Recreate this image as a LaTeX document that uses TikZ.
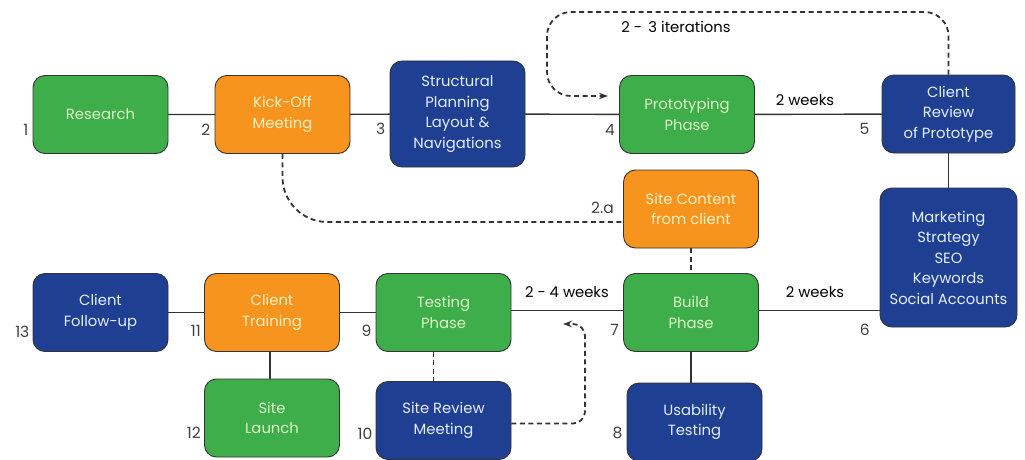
\documentclass[tikz,border=0pt]{standalone}
\usepackage{fontspec}
\setmainfont{Poppins}
\usetikzlibrary{arrows.meta,positioning}
\definecolor{boxgreen}{HTML}{3DAE4A}
\definecolor{boxorange}{HTML}{F7941D}
\definecolor{boxblue}{HTML}{1F3F93}
\definecolor{txtgreen}{HTML}{DDF5C8}
\definecolor{txtorange}{HTML}{FFF0C4}
\definecolor{txtblue}{HTML}{E3EEFB}
\definecolor{edge}{HTML}{333333}
\begin{document}
\begin{tikzpicture}[x=1pt,y=-1pt, line join=round, line cap=round,
	font=\fontsize{14.8}{20.5}\selectfont,
	box/.style={draw=edge, line width=0.9pt, rounded corners=12pt, minimum width=135pt, minimum height=78pt, align=center, inner sep=2pt},
	gbox/.style={box, fill=boxgreen, text=txtgreen},
	obox/.style={box, fill=boxorange, text=txtorange},
	bbox/.style={box, fill=boxblue, text=txtblue},
	num/.style={text=black!75, inner sep=1pt, font=\fontsize{15.5}{18}\selectfont},
	link/.style={draw=edge, line width=1.4pt},
	dlink/.style={draw=edge, line width=1.8pt, line cap=butt, dash pattern=on 5pt off 3.5pt},
	tip/.style={-{Stealth[length=9pt,width=6.5pt]}}]
	\useasboundingbox (0,0) rectangle (1025,460);
	
	% top row
	\node[gbox] (research) at (100.5,114.5) {Research};
	\node[obox] (kickoff) at (282.5,114.5) {Kick-Off\\Meeting};
	\node[bbox, minimum height=106pt] (structural) at (457.5,114) {Structural\\Planning\\Layout \&\\Navigations};
	\node[gbox] (proto) at (687,114.5) {Prototyping\\Phase};
	\node[bbox, minimum width=133pt] (review) at (948.5,114) {Client\\Review\\of Prototype};
	\node[obox] (content) at (691,209) {Site Content\\from client};
	\node[bbox, minimum width=137pt, minimum height=139pt] (marketing) at (948.5,257.5) {Marketing\\Strategy\\SEO\\Keywords\\Social Accounts};
	
	% bottom row
	\node[bbox] (followup) at (100.5,312.5) {Client\\Follow-up};
	\node[obox] (training) at (272,312.5) {Client\\Training};
	\node[gbox] (testing) at (443.5,312.5) {Testing\\Phase};
	\node[gbox] (build) at (691,312.5) {Build\\Phase};
	\node[gbox] (launch) at (272,418) {Site\\Launch};
	\node[bbox] (sitereview) at (443.5,420.5) {Site Review\\Meeting};
	\node[bbox] (usability) at (694.5,422) {Usability\\Testing};
	
	% solid links
	\draw[link] (research) -- (kickoff) (kickoff) -- (structural) (structural) -- (proto) (proto) -- (review);
	\draw[link] (review) -- (marketing);
	\draw[link] ([yshift=2pt]build.east) -- ([yshift=2pt]build.east -| marketing.west);
	\draw[link] ([yshift=2pt]testing.east) -- ([yshift=2pt]build.west);
	\draw[link] (testing) -- (training) (training) -- (followup);
	\draw[link] ([xshift=-2pt]training.south) -- ([xshift=-2pt]launch.north);
	\draw[link] (build.south) -- (build.south |- usability.north);
	
	% dashed links
	\coordinate (looptop) at (547,12);
	\coordinate (loopend) at (608,96);
	\coordinate (backend) at (563,324);
	\draw[dlink] (content) -- (build);
	\draw[dlink] ([xshift=-10pt]testing.south) -- ([xshift=-10pt]sitereview.north);
	\draw[dlink, rounded corners=45pt] (kickoff.south) |- ([yshift=-13pt]content.west);
	\draw[dlink, tip, rounded corners=24pt] (review.north) |- (looptop) |- (loopend);
	\draw[dlink, tip, rounded corners=12pt] ([yshift=-3pt]sitereview.east) -| (585,324) -- (backend);
	
	% labels
	\node at (676,27) {2 -\, 3 iterations};
	\node at (805,100) {2 weeks};
	\node at (567,292) {2 - 4 weeks};
	\node at (815,292) {2 weeks};
	
	% step numbers
	\node[num, left=3pt] at ([yshift=-15pt]research.west) {1};
	\node[num, left=3pt] at ([yshift=-15pt]kickoff.west) {2};
	\node[num, left=3pt] at ([yshift=-15pt]structural.west) {3};
	\node[num, left=3pt] at ([yshift=-15pt]proto.west) {4};
	\node[num, left=11pt] at ([yshift=-15pt]review.west) {5};
	\node[num, left=9pt] at (880,330) {6};
	\node[num, left=3pt] at ([yshift=-17pt]build.west) {7};
	\node[num, left=3pt] at ([yshift=-11pt]usability.west) {8};
	\node[num, left=3pt] at ([yshift=-18pt]testing.west) {9};
	\node[num, left=2pt] at ([yshift=-13pt]sitereview.west) {10};
	\node[num, left=2pt] at ([yshift=-18pt]training.west) {11};
	\node[num, left=2pt] at ([yshift=-15pt]launch.west) {12};
	\node[num, left=2pt] at ([yshift=-19pt]followup.west) {13};
	\node[num, left=8pt] at ([yshift=1pt]content.west) {2.a};
\end{tikzpicture}
\end{document}
